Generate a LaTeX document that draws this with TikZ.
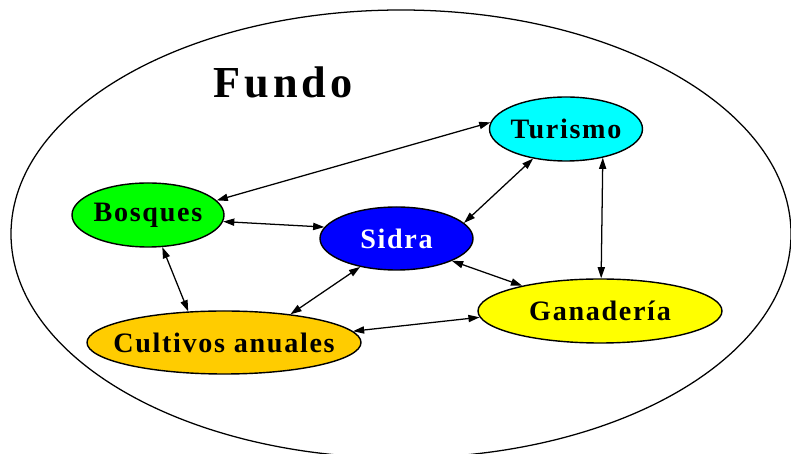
\documentclass[tikz,border=0pt]{standalone}
\usepackage{fontspec}
\setmainfont{Liberation Serif}
\newfontfamily\nodefont[LetterSpace=6]{Liberation Serif}
\newfontfamily\titlefont[LetterSpace=9]{Liberation Serif}
\usepackage{xcolor}
\definecolor{bosqbg}{rgb}{0,1,0}
\definecolor{sidrabg}{rgb}{0,0,1}
\definecolor{turbg}{rgb}{0,1,1}
\definecolor{ganbg}{rgb}{1,1,0}
\definecolor{cultbg}{rgb}{1,0.8,0}
\usetikzlibrary{positioning, arrows.meta, shapes.geometric}
% text of zero width, so the ellipse keeps its given size
\newcommand{\zerowd}[1]{\makebox[0pt]{#1}}

\begin{document}
\begin{tikzpicture}[
  sector/.style={draw, ellipse, line width=1pt, inner sep=0pt, minimum height=1.6cm,
                 font=\nodefont\bfseries\fontsize{20}{24}\selectfont},
  link/.style={<->, >={Triangle[length=2.8mm, width=1.8mm]}, line width=0.9pt},
  title/.style={font=\titlefont\bfseries\fontsize{31.5}{36}\selectfont},
]
\clip (0,0) rectangle (19.775,11.35);

% Farm boundary
\draw[line width=0.9pt] (10.025,5.5) ellipse (9.75 and 5.6);
\node[title] (fundo) at (7.075,9.3) {Fundo};

% Sectors
\node[sector, fill=bosqbg, minimum width=3.8cm] (bos) at (3.7,5.975) {\zerowd{Bosques}};
\node[sector, fill=sidrabg, text=white, minimum width=3.825cm, minimum height=1.575cm] (sid) at (9.9125,5.3875) {\zerowd{Sidra}};
\node[sector, fill=turbg, minimum width=3.825cm] (tur) at (14.15,8.125) {\zerowd{Turismo}};
\node[sector, fill=ganbg, minimum width=6.1cm] (gan) at (15.0,3.575) {\zerowd{Ganadería}};
\node[sector, fill=cultbg, minimum width=6.85cm, minimum height=1.575cm] (cul) at (5.6,2.7875) {\zerowd{Cultivos anuales}};

% Links between sectors
\draw[link] (bos.12) -- (tur.175);
\draw[link] (bos.-5) -- (sid.171);
\draw[link] (tur.222) -- (sid.13);
\draw[link] (tur.-38) -- (gan.88);
\draw[link] (sid.-22) -- (gan.162);
\draw[link] (sid.-142) -- (cul.23);
\draw[link] (bos.-66) -- (cul.139);
\draw[link] (cul.5) -- (gan.-177);
\end{tikzpicture}
\end{document}
